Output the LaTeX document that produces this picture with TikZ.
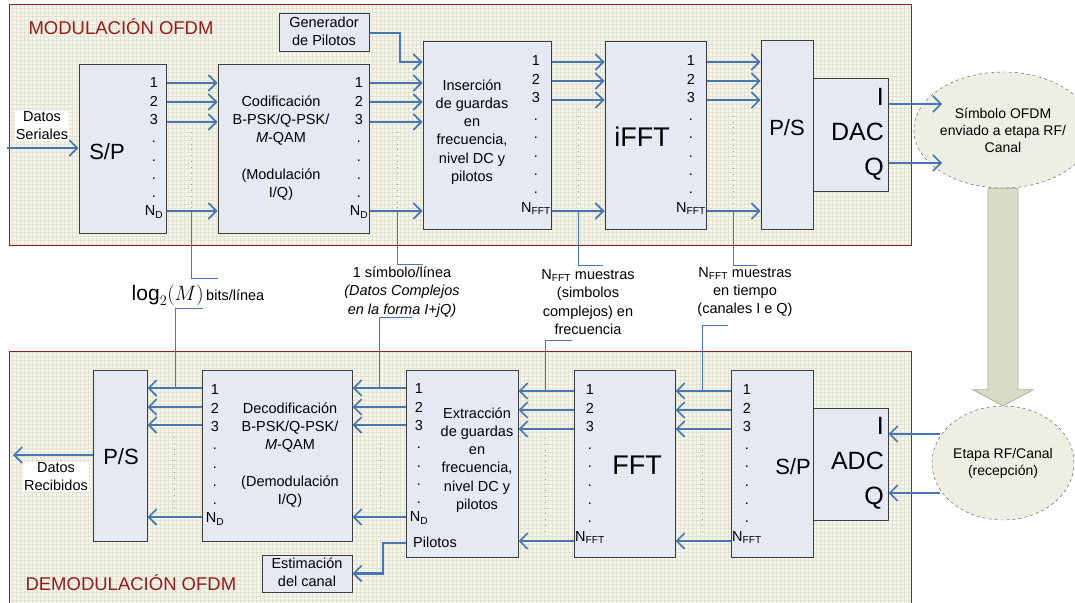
\documentclass[tikz,border=0pt]{standalone}
\usepackage{fontspec}
\setmainfont{Liberation Sans}
\usepackage{tikz}
\usetikzlibrary{arrows.meta, shapes.geometric}
\definecolor{framered}{RGB}{140,35,35}
\definecolor{titlered}{RGB}{150,28,28}
\definecolor{panelbg}{RGB}{246,245,236}
\definecolor{gridc}{RGB}{226,226,210}
\definecolor{boxbg}{RGB}{228,233,244}
\definecolor{boxline}{RGB}{60,60,60}
\definecolor{lineblue}{RGB}{70,118,182}
\definecolor{bigfill}{RGB}{216,219,197}
\definecolor{bigline}{RGB}{170,174,150}
\definecolor{ellbg}{RGB}{238,238,226}

\begin{document}
\begin{tikzpicture}[x=1pt, y=-1pt,
  panel/.style={draw=framered, line width=1pt},
  title/.style={anchor=west, text=titlered, font=\fontsize{18.5}{20}\selectfont},
  blk/.style={rectangle, draw=boxline, fill=boxbg, line width=1pt, inner sep=0pt},
  txt/.style={align=center, inner sep=0pt, font=\fontsize{14.5}{18.2}\selectfont},
  col/.style={align=center, inner sep=0pt, font=\fontsize{14.5}{18.3}\selectfont},
  big/.style={inner sep=0pt, font=\fontsize{22}{24}\selectfont},
  huge/.style={inner sep=0pt, font=\fontsize{27}{30}\selectfont},
  conv/.style={align=right, inner sep=0pt, font=\fontsize{25}{35}\selectfont},
  ell/.style={ellipse, draw=black!70, dashed, fill=ellbg, inner sep=0pt,
              align=center, font=\fontsize{14}{17}\selectfont},
  io/.style={fill=white, align=center, inner sep=1pt, font=\fontsize{14.5}{18}\selectfont},
  arr/.style={-{Straight Barb[length=8pt,width=16pt,line width=1.6pt]},
              line width=2.9pt, draw=lineblue},
  callout/.style={draw=lineblue, line width=0.9pt},
  dotv/.style={draw=black!40, line width=1pt, dash pattern=on 0.8pt off 5pt},
  bigarr/.style={fill=bigfill, draw=bigline, line width=0.8pt}
]
\useasboundingbox (0,0) rectangle (1075,602);

\fill[panelbg] (9,5) rectangle (911,245);
\draw[gridc, line width=0.25pt, step=4pt] (9,245) grid (911,5);
\draw[panel] (9,5) rectangle (911,245);
\fill[panelbg] (9,351) rectangle (911,606);
\draw[gridc, line width=0.25pt, step=4pt] (9,606) grid (911,351);
\draw[panel] (9,606) -- (9,351) -- (911,351) -- (911,606);

\node[title] (modt) at (25,27) {MODULACIÓN OFDM};
\node[title] (demt) at (22,583) {DEMODULACIÓN OFDM};

\node[ell, minimum width=144pt, minimum height=116pt] (sym) at (1003,130)
  {Símbolo OFDM\\enviado a etapa RF/\\Canal};
\node[ell, minimum width=142pt, minimum height=114pt] (rf) at (1003,463)
  {Etapa RF/Canal\\(recepción)};
\draw[bigarr] ([xshift=-15pt]sym.south) -- ([xshift=-15pt,yshift=16pt]rf.north)
  -- ([xshift=-30pt,yshift=16pt]rf.north) -- (rf.north)
  -- ([xshift=30pt,yshift=16pt]rf.north) -- ([xshift=15pt,yshift=16pt]rf.north)
  -- ([xshift=15pt]sym.south) -- cycle;

\node[blk, minimum width=87pt,  minimum height=169pt] (sp)   at (122.5,148.5) {};
\node[blk, minimum width=151pt, minimum height=169pt] (cod)  at (293.5,148.5) {};
\node[blk, minimum width=90pt,  minimum height=38pt]  (gen)  at (324,33)
  {\fontsize{14.5}{18}\selectfont\begin{tabular}{@{}c@{}}Generador\\de Pilotos\end{tabular}};
\node[blk, minimum width=128pt, minimum height=187pt] (ins)  at (487,135.5) {};
\node[blk, minimum width=101pt, minimum height=187pt] (ifft) at (655.5,135.5) {};
\node[blk, minimum width=52pt,  minimum height=188pt] (ps)   at (787,135) {};
\node[blk, minimum width=75pt,  minimum height=113pt] (dac)  at (850.5,134.5) {};

\node[blk, minimum width=54pt,  minimum height=171pt] (ps2)  at (120,455.5) {};
\node[blk, minimum width=150pt, minimum height=171pt] (dec)  at (277,455.5) {};
\node[blk, minimum width=90pt,  minimum height=37pt]  (est)  at (307,573.5)
  {\fontsize{14.5}{18}\selectfont\begin{tabular}{@{}c@{}}Estimación\\del canal\end{tabular}};
\node[blk, minimum width=112pt, minimum height=187pt] (ext)  at (462,463.5) {};
\node[blk, minimum width=101pt, minimum height=187pt] (fft)  at (624.5,463.5) {};
\node[blk, minimum width=82pt,  minimum height=187pt] (sp2)  at (772,463.5) {};
\node[blk, minimum width=75pt,  minimum height=112pt] (adc)  at (850.5,464) {};

\node[big] (spt) at (107,152) {S/P};
\node[col] (spc) at (154,148) {1\\2\\3\\.\\.\\.\\.\\N\textsubscript{D}};
\node[txt] (codt) at (281,148)
  {Codificación\\B-PSK/Q-PSK/\\\textit{M}-QAM\\[18pt](Modulación\\I/Q)};
\node[col] (codc) at (359,148) {1\\2\\3\\.\\.\\.\\.\\N\textsubscript{D}};
\node[txt] (inst) at (472,132)
  {Inserción\\de guardas\\en\\frecuencia,\\nivel DC y\\pilotos};
\node[col] (insc) at (536,135) {1\\2\\3\\.\\.\\.\\.\\.\\N\textsubscript{FFT}};
\node[huge] (ifftt) at (642,137) {iFFT};
\node[col] (ifftc) at (691,135) {1\\2\\3\\.\\.\\.\\.\\.\\N\textsubscript{FFT}};
\node[big] (pst) at (787,128) {P/S};
\node[conv, anchor=east] (dact) at (884,134) {I\\DAC\\Q};

\node[big] (ps2t) at (121,457) {P/S};
\node[col] (decc) at (215,455) {1\\2\\3\\.\\.\\.\\.\\N\textsubscript{D}};
\node[txt] (dect) at (290,455)
  {Decodificación\\B-PSK/Q-PSK/\\\textit{M}-QAM\\[18pt](Demodulación\\I/Q)};
\node[col] (extc) at (419,454) {1\\2\\3\\.\\.\\.\\.\\N\textsubscript{D}};
\node[txt] (extt) at (477,460)
  {Extracción\\de guardas\\en\\frecuencia,\\nivel DC y\\pilotos};
\node[txt] (pilt) at (435,542) {Pilotos};
\node[col] (fftc) at (590,464) {1\\2\\3\\.\\.\\.\\.\\.\\N\textsubscript{FFT}};
\node[huge] (fftt) at (637,465) {FFT};
\node[col] (sp2c) at (747,464) {1\\2\\3\\.\\.\\.\\.\\.\\N\textsubscript{FFT}};
\node[big] (sp2t) at (793,467) {S/P};
\node[conv, anchor=east] (adct) at (884,463) {I\\ADC\\Q};

\node[io] (datin)  at (42,126)  {Datos\\Seriales};
\node[io] (datout) at (56,477)  {Datos\\Recibidos};

\node[txt] (lgt) at (198,295)
  {{\fontsize{21}{21}\selectfont$\log_2\!\left(M\right)$}\,bits/línea};
\node[txt] (symt) at (402,292)
  {1 símbolo/línea\\\textit{(Datos Complejos}\\\textit{en la forma I+jQ)}};
\node[txt] (nft) at (588,302)
  {N\textsubscript{FFT} muestras\\(simbolos\\complejos) en\\frecuencia};
\node[txt] (ntt) at (745,292)
  {N\textsubscript{FFT} muestras\\en tiempo\\(canales I e Q)};

\coordinate (ta1) at (0,83);  \coordinate (ta2) at (0,102);
\coordinate (ta3) at (0,122); \coordinate (taN) at (0,211);
\coordinate (tb1) at (0,62);  \coordinate (tb2) at (0,81);
\coordinate (tb3) at (0,100); \coordinate (tbN) at (0,211);
\coordinate (ba1) at (0,388); \coordinate (ba2) at (0,407);
\coordinate (ba3) at (0,425); \coordinate (baN) at (0,517);
\coordinate (bb1) at (0,391); \coordinate (bb2) at (0,410);
\coordinate (bb3) at (0,429); \coordinate (bbN) at (0,541);
\coordinate (tp)  at (400,62);
\coordinate (pb)  at (383,543);
\coordinate (inS) at (7,148);
\coordinate (outR) at (13,455);
\coordinate (dI) at (942,104); \coordinate (dQ) at (942,163);
\coordinate (aI) at (940,434); \coordinate (aQ) at (940,493);

\draw[dotv] (191,132) -- (191,208);
\draw[dotv] (397,132) -- (397,208);
\draw[dotv] (578,110) -- (578,205);
\draw[dotv] (733,110) -- (733,205);
\draw[dotv] (174,437) -- (174,512);
\draw[dotv] (380,437) -- (380,512);
\draw[dotv] (545,438) -- (545,536);
\draw[dotv] (702,438) -- (702,536);

\coordinate (tA) at (191,211); \coordinate (kA) at (218,278);
\coordinate (tB) at (397,211); \coordinate (kB) at (423,264);
\coordinate (tC) at (578,211); \coordinate (kC) at (603,265);
\coordinate (tD) at (733,211); \coordinate (kD) at (757,265);
\coordinate (bA) at (175,388); \coordinate (jA) at (203,308);
\coordinate (bB) at (379,388); \coordinate (jB) at (412,317);
\coordinate (bC) at (545,391); \coordinate (jC) at (572,340);
\coordinate (bD) at (702,391); \coordinate (jD) at (728,325);

\draw[callout] (tA) |- (kA);
\draw[callout] (tB) |- (kB);
\draw[callout] (tC) |- (kC);
\draw[callout] (tD) |- (kD);
\draw[callout] (jA) -| (bA);
\draw[callout] (jB) -| (bB);
\draw[callout] (jC) -| (bC);
\draw[callout] (jD) -| (bD);

\draw[arr] (inS) -- (sp.west |- inS);
\draw[arr] (sp.east |- ta1) -- (cod.west |- ta1);
\draw[arr] (sp.east |- ta2) -- (cod.west |- ta2);
\draw[arr] (sp.east |- ta3) -- (cod.west |- ta3);
\draw[arr] (sp.east |- taN) -- (cod.west |- taN);
\draw[arr] (cod.east |- ta1) -- (ins.west |- ta1);
\draw[arr] (cod.east |- ta2) -- (ins.west |- ta2);
\draw[arr] (cod.east |- ta3) -- (ins.west |- ta3);
\draw[arr] (cod.east |- taN) -- (ins.west |- taN);
\draw[arr] (gen.east) -| (tp) -- (ins.west |- tp);
\draw[arr] (ins.east |- tb1) -- (ifft.west |- tb1);
\draw[arr] (ins.east |- tb2) -- (ifft.west |- tb2);
\draw[arr] (ins.east |- tb3) -- (ifft.west |- tb3);
\draw[arr] (ins.east |- tbN) -- (ifft.west |- tbN);
\draw[arr] (ifft.east |- tb1) -- (ps.west |- tb1);
\draw[arr] (ifft.east |- tb2) -- (ps.west |- tb2);
\draw[arr] (ifft.east |- tb3) -- (ps.west |- tb3);
\draw[arr] (ifft.east |- tbN) -- (ps.west |- tbN);
\draw[arr] (dac.east |- dI) -- (dI);
\draw[arr] (dac.east |- dQ) -- (dQ);

\draw[arr] (aI) -- (adc.east |- aI);
\draw[arr] (aQ) -- (adc.east |- aQ);
\draw[arr] (sp2.west |- bb1) -- (fft.east |- bb1);
\draw[arr] (sp2.west |- bb2) -- (fft.east |- bb2);
\draw[arr] (sp2.west |- bb3) -- (fft.east |- bb3);
\draw[arr] (sp2.west |- bbN) -- (fft.east |- bbN);
\draw[arr] (fft.west |- bb1) -- (ext.east |- bb1);
\draw[arr] (fft.west |- bb2) -- (ext.east |- bb2);
\draw[arr] (fft.west |- bb3) -- (ext.east |- bb3);
\draw[arr] (fft.west |- bbN) -- (ext.east |- bbN);
\draw[arr] (ext.west |- ba1) -- (dec.east |- ba1);
\draw[arr] (ext.west |- ba2) -- (dec.east |- ba2);
\draw[arr] (ext.west |- ba3) -- (dec.east |- ba3);
\draw[arr] (ext.west |- baN) -- (dec.east |- baN);
\draw[arr] (ext.west |- pb) -- (pb) |- (est.east);
\draw[arr] (dec.west |- ba1) -- (ps2.east |- ba1);
\draw[arr] (dec.west |- ba2) -- (ps2.east |- ba2);
\draw[arr] (dec.west |- ba3) -- (ps2.east |- ba3);
\draw[arr] (dec.west |- baN) -- (ps2.east |- baN);
\draw[arr] (ps2.west |- outR) -- (outR);

\end{tikzpicture}
\end{document}
